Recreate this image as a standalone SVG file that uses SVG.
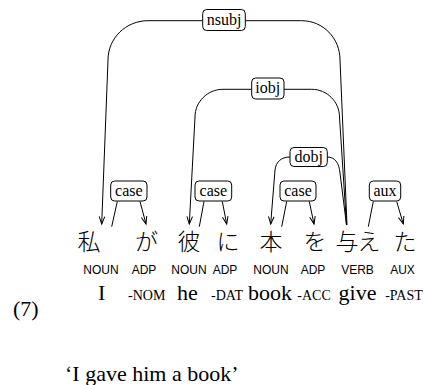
<svg xmlns="http://www.w3.org/2000/svg" width="424" height="385" viewBox="0 0 424 385">
<style>
.edge{fill:none;stroke:#000;stroke-width:1}
.arr{marker-end:url(#ah)}
.box{fill:#fff;stroke:#000;stroke-width:1}
.lab{font-family:"Liberation Serif",serif;font-size:16px;text-anchor:middle}
.jp{font-family:"Noto Sans CJK JP",sans-serif;font-size:23px;text-anchor:middle;font-weight:300}
.pos{font-family:"Liberation Sans",sans-serif;font-size:12px;text-anchor:middle}
.gl{font-family:"Liberation Serif",serif;font-size:22px;text-anchor:middle}
.sc{font-family:"Liberation Serif",serif;font-size:14px;text-anchor:middle}
.txt{font-family:"Liberation Serif",serif;font-size:22px}
</style>
<defs>
<marker id="ah" markerUnits="userSpaceOnUse" markerWidth="10" markerHeight="10" refX="0" refY="0" viewBox="-8 -5 10 10" orient="auto" overflow="visible">
<path d="M-7.5,-2.8 L0,0 L-7.5,2.8" fill="none" stroke="#000" stroke-width="1"/>
</marker>
</defs>
<g id="connectors">
<path class="edge arr" d="M202.7,20.7 L148,20.7 C126,20.7 108,38 108,60 L101.7,224"/>
<path class="edge" d="M245.3,20.7 L301.7,20.7 C323,20.7 340,38 340,60 L347,225"/>
<path class="edge arr" d="M251.7,89.3 L223,89.3 C207.5,89.3 195,101.8 195,117 L189.3,224"/>
<path class="edge" d="M284,89.3 L311.7,89.3 C327,89.3 339.5,101.8 339.5,117 L346.5,225"/>
<path class="edge arr" d="M290,157 C281,157 276,162 275,170 L270.7,224"/>
<path class="edge" d="M327.3,157 C335,157 339,163 340,173 L346.5,225"/>
<path class="edge" d="M117.3,201.5 L111.7,226.7"/>
<path class="edge arr" d="M140,201.5 L146,224"/>
<path class="edge" d="M204,201.5 L199.3,226.7"/>
<path class="edge arr" d="M222.3,201.5 L226.7,224"/>
<path class="edge" d="M286.7,201.5 L281.7,226.7"/>
<path class="edge arr" d="M309.3,201.5 L314,224"/>
<path class="edge" d="M373.3,201.5 L368.3,226.7"/>
<path class="edge arr" d="M396.7,201.5 L403.3,224"/>
</g>
<g id="label-nsubj"><rect class="box" x="202.7" y="9.5" width="42.6" height="21" rx="4"/><text class="lab" x="224" y="24.5">nsubj</text></g>
<g id="label-iobj"><rect class="box" x="251.7" y="78" width="32.3" height="21" rx="4"/><text class="lab" x="267.8" y="93">iobj</text></g>
<g id="label-dobj"><rect class="box" x="290" y="147.5" width="37.3" height="19" rx="4"/><text class="lab" x="308.7" y="161.5">dobj</text></g>
<g id="label-case1"><rect class="box" x="110.7" y="181" width="36.3" height="20" rx="4"/><text class="lab" x="128.8" y="195.5">case</text></g>
<g id="label-case2"><rect class="box" x="195" y="181" width="36.7" height="20" rx="4"/><text class="lab" x="213.3" y="195.5">case</text></g>
<g id="label-case3"><rect class="box" x="280" y="181" width="36" height="20" rx="4"/><text class="lab" x="298" y="195.5">case</text></g>
<g id="label-aux"><rect class="box" x="369.3" y="181" width="31.4" height="20" rx="4"/><text class="lab" x="385" y="195.5">aux</text></g>
<g id="w1"><text class="jp" x="89" y="249.5">私</text><text class="pos" x="101" y="273.5">NOUN</text><text class="gl" x="101.7" y="300">I</text></g>
<g id="w2"><text class="jp" x="146.5" y="249.5">が</text><text class="pos" x="144" y="273.5">ADP</text><text class="sc" x="146.7" y="300">-NOM</text></g>
<g id="w3"><text class="jp" x="189" y="249.5">彼</text><text class="pos" x="189" y="273.5">NOUN</text><text class="gl" x="187.5" y="300">he</text></g>
<g id="w4"><text class="jp" x="228" y="249.5">に</text><text class="pos" x="225" y="273.5">ADP</text><text class="sc" x="227" y="300">-DAT</text></g>
<g id="w5"><text class="jp" x="271" y="249.5">本</text><text class="pos" x="271" y="273.5">NOUN</text><text class="gl" x="270" y="300">book</text></g>
<g id="w6"><text class="jp" x="315" y="249.5">を</text><text class="pos" x="313" y="273.5">ADP</text><text class="sc" x="314" y="300">-ACC</text></g>
<g id="w7"><text class="jp" x="347" y="249.5">与</text><text class="jp" x="369" y="249.5">え</text><text class="pos" x="357.5" y="273.5">VERB</text><text class="gl" x="357.5" y="300">give</text></g>
<g id="w8"><text class="jp" x="405" y="249.5">た</text><text class="pos" x="402.5" y="273.5">AUX</text><text class="sc" x="404" y="300">-PAST</text></g>
<text class="txt" x="13" y="316" font-size="21">(7)</text>
<text class="txt" x="65" y="381">‘I gave him a book’</text>
</svg>
